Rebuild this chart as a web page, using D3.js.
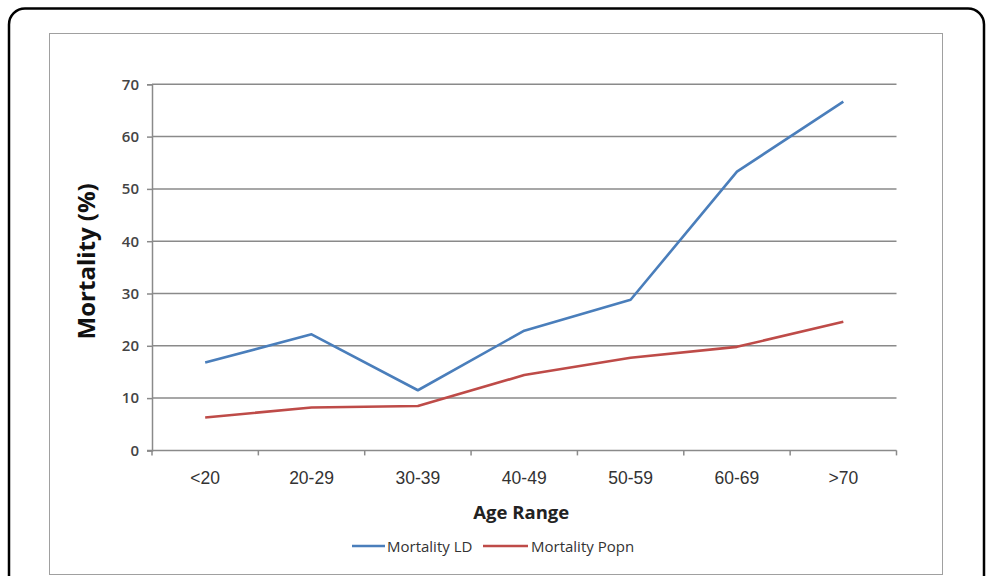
<!DOCTYPE html>
<html>
<head>
<meta charset="utf-8">
<script src="https://cdn.jsdelivr.net/npm/d3@7"></script>
<style>
  body { margin: 0; background: #fff; }
  svg { display: block; }
</style>
</head>
<body>
<svg id="chart" width="996" height="576"></svg>
<script>
// chart data
const ageRanges = ["<20", "20-29", "30-39", "40-49", "50-59", "60-69", ">70"];
const mortalityLD = [16.8, 22.2, 11.5, 22.9, 28.8, 53.3, 66.7];
const mortalityPopn = [6.3, 8.2, 8.5, 14.4, 17.7, 19.8, 24.6];
const yTicks = [0, 10, 20, 30, 40, 50, 60, 70];

const seriesList = [
    { name: "Mortality LD", values: mortalityLD, color: "#4a7ebb" },
    { name: "Mortality Popn", values: mortalityPopn, color: "#be4b48" }
];

const svg = d3.select("#chart");
const plot = { left: 152, right: 896.5, top: 84.3, bottom: 450.4 };

// outer rounded frame + inner chart box
svg.append("rect")
    .attr("x", 9).attr("y", 8.5)
    .attr("width", 975).attr("height", 600)
    .attr("rx", 16).attr("ry", 16)
    .attr("fill", "none")
    .attr("stroke", "#000")
    .attr("stroke-width", 2.5);

svg.append("rect")
    .attr("x", 49.5).attr("y", 33.5)
    .attr("width", 893).attr("height", 541)
    .attr("fill", "#fff")
    .attr("stroke", "#a0a0a0")
    .attr("stroke-width", 1);

const x = d3.scaleBand()
    .domain(ageRanges)
    .range([plot.left, plot.right]);

const y = d3.scaleLinear()
    .domain([0, 70])
    .range([plot.bottom, plot.top]);

const gridColor = "#8a8a8a";

// horizontal gridlines
svg.append("g")
    .selectAll("line")
    .data(yTicks.filter(d => d > 0))
    .enter()
    .append("line")
    .attr("x1", plot.left).attr("x2", plot.right)
    .attr("y1", d => y(d)).attr("y2", d => y(d))
    .attr("stroke", gridColor)
    .attr("stroke-width", 1.5);

// y axis
const yAxis = svg.append("g")
    .attr("transform", `translate(${plot.left},0)`)
    .call(d3.axisLeft(y).tickValues(yTicks).tickSize(5).tickPadding(8));
yAxis.select(".domain").attr("stroke", gridColor).attr("stroke-width", 1.5);
yAxis.selectAll(".tick line").attr("stroke", gridColor).attr("stroke-width", 1.5);
yAxis.selectAll(".tick text")
    .attr("fill", "#444")
    .style("font-family", "'Open Sans', sans-serif")
    .style("font-size", "15px")
    .style("font-weight", 600);

// x axis with ticks at category boundaries
const xAxisG = svg.append("g")
    .attr("transform", `translate(0,${plot.bottom})`);
xAxisG.append("line")
    .attr("x1", plot.left - 5).attr("x2", plot.right)
    .attr("stroke", gridColor).attr("stroke-width", 1.5);
const boundaries = ageRanges.map(d => x(d)).concat([x(ageRanges[ageRanges.length - 1]) + x.bandwidth()]);
xAxisG.selectAll(".btick")
    .data(boundaries)
    .enter()
    .append("line")
    .attr("x1", d => d).attr("x2", d => d)
    .attr("y1", 0).attr("y2", 5)
    .attr("stroke", gridColor).attr("stroke-width", 1.5);
xAxisG.selectAll(".xlabel")
    .data(ageRanges)
    .enter()
    .append("text")
    .attr("x", d => x(d) + x.bandwidth() / 2)
    .attr("y", 34)
    .attr("text-anchor", "middle")
    .attr("fill", "#333")
    .style("font-family", "'Liberation Sans', Arial, sans-serif")
    .style("font-size", "17.5px")
    .text(d => d);

// axis titles
svg.append("text")
    .attr("transform", `translate(95,${(plot.top + plot.bottom) / 2 - 6}) rotate(-90)`)
    .attr("text-anchor", "middle")
    .attr("fill", "#111")
    .style("font-family", "'Open Sans', sans-serif")
    .style("font-size", "24px")
    .style("font-weight", 700)
    .text("Mortality (%)");

svg.append("text")
    .attr("x", (plot.left + plot.right) / 2 - 3)
    .attr("y", 519)
    .attr("text-anchor", "middle")
    .attr("fill", "#222")
    .style("font-family", "'Open Sans', sans-serif")
    .style("font-size", "18.5px")
    .style("font-weight", 700)
    .text("Age Range");

// series lines
const line = d3.line()
    .x((d, i) => x(ageRanges[i]) + x.bandwidth() / 2)
    .y(d => y(d));

svg.selectAll(".series")
    .data(seriesList)
    .enter()
    .append("path")
    .attr("d", d => line(d.values))
    .attr("fill", "none")
    .attr("stroke", d => d.color)
    .attr("stroke-width", 2.6)
    .attr("stroke-linejoin", "round");

// legend
const legendX = [352, 483];
const legend = svg.selectAll(".legend")
    .data(seriesList)
    .enter()
    .append("g")
    .attr("transform", (d, i) => `translate(${legendX[i]},546)`);
legend.append("line")
    .attr("x1", 0).attr("x2", (d, i) => i === 0 ? 33 : 45)
    .attr("stroke", d => d.color)
    .attr("stroke-width", 2.6);
legend.append("text")
    .attr("x", (d, i) => i === 0 ? 35 : 48)
    .attr("y", 5.5)
    .attr("fill", "#333")
    .style("font-family", "'Open Sans', sans-serif")
    .style("font-size", "15px")
    .text(d => d.name);
</script>
</body>
</html>
